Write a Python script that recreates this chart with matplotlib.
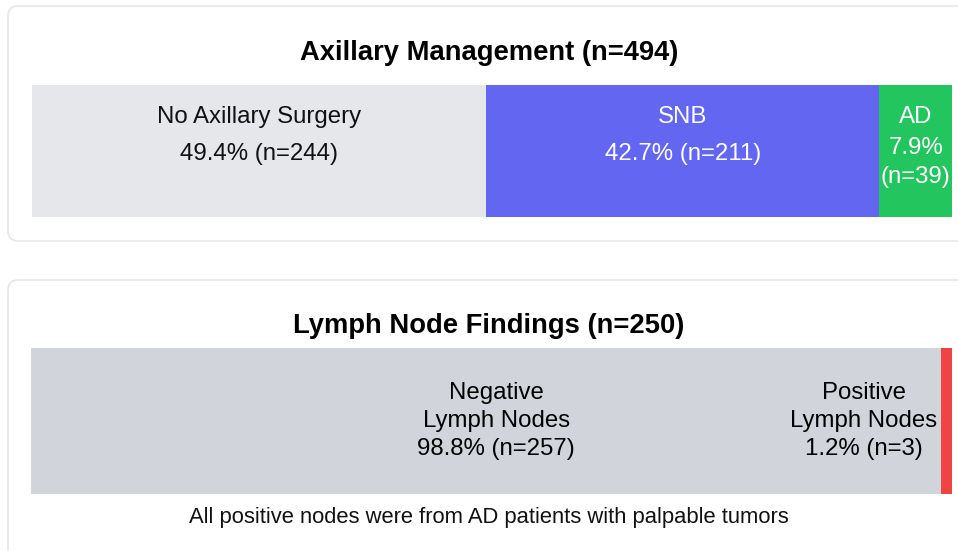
import matplotlib
matplotlib.use("Agg")
import matplotlib.pyplot as plt
from matplotlib.patches import FancyBboxPatch

plt.rcParams["font.family"] = ["Liberation Sans", "DejaVu Sans"]

# Axillary management
mgmt_labels = ["No Axillary Surgery", "SNB", "AD"]
mgmt_counts = [244, 211, 39]
mgmt_pcts = [49.4, 42.7, 7.9]
mgmt_colors = ["#e5e7eb", "#6366f1", "#22c55e"]
mgmt_text = ["#111111", "white", "white"]
mgmt_title = "Axillary Management (n=494)"

# Lymph node findings
node_labels = ["Negative\nLymph Nodes", "Positive\nLymph Nodes"]
node_counts = [257, 3]
node_pcts = [98.8, 1.2]
node_colors = ["#d1d5db", "#ef4444"]
node_title = "Lymph Node Findings (n=250)"
footnote = "All positive nodes were from AD patients with palpable tumors"

W, H = 958, 551
fig = plt.figure(figsize=(W / 100, H / 100), dpi=100)

# background layer in pixel units for the cards and headings
bg = fig.add_axes([0, 0, 1, 1])
bg.set_xlim(0, W)
bg.set_ylim(H, 0)
bg.axis("off")
for top, bottom in [(6, 241), (280, 570)]:
    bg.add_patch(FancyBboxPatch((8, top), 980, bottom - top,
                                boxstyle="round,pad=0,rounding_size=10",
                                fc="white", ec="#e6e7ea", lw=1.2))
bg.text(489, 53, mgmt_title, ha="center", va="center", fontsize=19.7, fontweight="bold")
bg.text(489, 326, node_title, ha="center", va="center", fontsize=19.7, fontweight="bold")
bg.text(489, 518, footnote, ha="center", va="center", fontsize=15.8, color="#111111")


def px_axes(x0, x1, y0, y1):
    return fig.add_axes([x0 / W, 1 - y1 / H, (x1 - x0) / W, (y1 - y0) / H])


FS = 17.3

# top bar
ax1 = px_axes(32, 952, 85, 217)
left = 0
for lab, n, p, c, tc in zip(mgmt_labels, mgmt_counts, mgmt_pcts, mgmt_colors, mgmt_text):
    ax1.barh(0, n, left=left, height=1, color=c, edgecolor="none")
    cx = left + n / 2
    ax1.text(cx, 0.26, lab, ha="center", va="center", fontsize=FS, color=tc)
    if n / sum(mgmt_counts) < 0.12:
        ax1.text(cx, -0.09, f"{p}%\n(n={n})", ha="center", va="center",
                 fontsize=FS, color=tc, linespacing=1.4)
    else:
        ax1.text(cx, -0.02, f"{p}% (n={n})", ha="center", va="center", fontsize=FS, color=tc)
    left += n
ax1.set_xlim(0, sum(mgmt_counts))
ax1.set_ylim(-0.5, 0.5)
ax1.axis("off")

# bottom bar
ax2 = px_axes(31, 952, 348, 494)
total = sum(node_counts)
ax2.barh(0, node_counts, left=[0, node_counts[0]], height=1, color=node_colors, edgecolor="none")
ax2.text(total * 0.505, 0, f"{node_labels[0]}\n{node_pcts[0]}% (n={node_counts[0]})",
         ha="center", va="center", fontsize=FS, linespacing=1.36)
ax2.text(total * 0.904, 0, f"{node_labels[1]}\n{node_pcts[1]}% (n={node_counts[1]})",
         ha="center", va="center", fontsize=FS, linespacing=1.36)
ax2.set_xlim(0, total)
ax2.set_ylim(-0.5, 0.5)
ax2.axis("off")

fig.savefig("out.png", dpi=100)
